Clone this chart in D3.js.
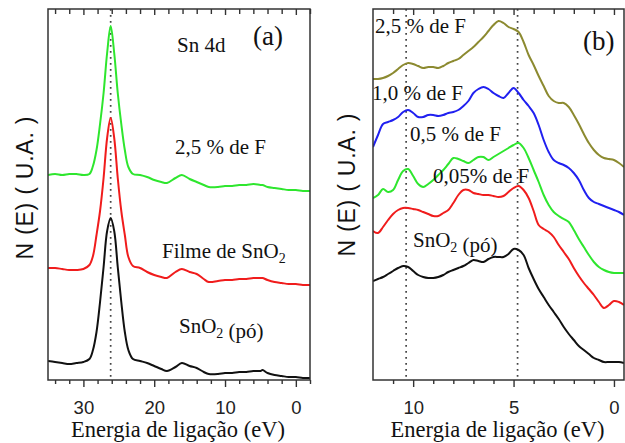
<!DOCTYPE html>
<html>
<head>
<meta charset="utf-8">
<script src="https://cdn.jsdelivr.net/npm/d3@7"></script>
<style>
  body { margin: 0; background: #fff; }
  svg { display: block; }
  .serif { font-family: "Liberation Serif", "Times New Roman", Times, serif; }
  .sans { font-family: "Liberation Sans", Arial, Helvetica, sans-serif; }
</style>
</head>
<body>
<svg id="chart" width="625" height="443"></svg>
<script>
// ---- Panel (a): Sn 4d core level, binding energy in eV ----
const energyA = [35,34,33,32,31,30,29.15,28.65,28.15,27.65,27.15,26.65,26.15,25.65,25.15,24.65,24.15,23.65,
  23,22,21,20,19,18.2,17,16.1,15,14,13,12.3,11,10,9,8,7,6,5,4.7,4,3,2,1,0,-1,-2];
const sno2PowderA = [19,18,17,16,17,18,21,30,48,78,113,149,162,149,113,78,48,30,
  21,19,17,14,11,9,13,17,14,12,8,6,6,7,7,8,8,9,9,10,7,5,4,3,3,2,2];
const sno2FilmA = [112,112,111,110,110,111,115,124,145,169,202,242,262,242,202,169,145,123,
  114,112,108,105,103,102,108,111,108,106,101,98,99,100,100,101,101,102,102,102,100,98,97,96,96,95,95];
const fluor25A = [205,206,205,206,206,205,206,214,230,256,287,327,354,327,287,256,230,213,
  206,205,203,200,198,197,202,205,201,198,195,193,193,194,194,195,195,196,195,195,193,192,191,190,190,189,189];
const sn4dPeak = [26.15];
const majorTicksA = [30,20,10,0];
const tickLabelsA = ["30","20","10","0"];
const minorTicksA = [34,32,28,26,24,22,18,16,14,12,8,6,4,2,-2];

// ---- Panel (b): valence band region ----
const energyB = [12,11.75,11.5,11.25,11,10.75,10.5,10.25,10,9.75,9.5,9.25,9,8.75,8.5,8.25,8,7.75,7.5,7.25,
  7,6.75,6.5,6.25,6,5.75,5.5,5.25,5,4.75,4.5,4.25,4,3.75,3.5,3.25,3,2.75,2.5,2.25,
  2,1.75,1.5,1.25,1,0.75,0.5,0.25,0,-0.25,-0.5];
const sno2PowderB = [99,101,103,106,109,112,114,113,109,105,103,102,102,103,105,108,110,112,114,117,
  120,119,118,121,123,123,123,126,131,130,125,112,101,91,83,75,68,61,53,46,
  40,34,30,26,22,20,18,18,18,18,17];
const fluor005B = [149,147,153,160,166,170,172,172,171,170,168,166,164,164,167,170,177,185,190,190,
  187,186,185,185,184,183,184,188,192,194,190,182,169,155,151,148,143,135,128,121,
  112,104,97,91,85,78,72,75,79,78,75];
const fluor05B = [182,185,191,188,190,200,209,211,204,196,193,196,200,205,210,216,222,221,219,217,
  220,223,223,220,223,226,229,232,235,237,232,222,210,198,185,175,168,164,161,158,
  150,141,133,125,118,113,110,108,107,107,107];
const fluor10B = [233,245,256,258,260,263,268,270,267,263,263,265,265,264,265,267,268,270,274,279,
  287,291,293,291,287,284,282,287,292,287,280,274,267,255,240,228,220,217,215,212,
  207,200,190,182,178,176,174,172,170,168,165];
const fluor25B = [301,301,302,304,307,311,315,317,316,314,312,313,313,312,314,317,319,321,325,329,
  333,338,343,349,355,359,357,353,351,348,338,325,315,304,294,284,279,277,277,273,
  265,256,246,237,230,225,222,221,220,217,213];
const valencePeaks = [10.35, 4.8];
const majorTicksB = [10,5,0];
const tickLabelsB = ["10","5","0"];
const minorTicksB = [11,9,8,7,6,4,3,2,1];

const svg = d3.select("#chart");

function drawPanel(p) {
  const x = d3.scaleLinear().domain(p.domain).range([p.left, p.right]);
  const y = d3.scaleLinear().domain([0, 371]).range([p.bottom, p.top]);
  const g = svg.append("g");

  const clipId = "clip-" + p.id;
  svg.append("clipPath").attr("id", clipId)
    .append("rect").attr("x", p.left).attr("y", p.top)
    .attr("width", p.right - p.left).attr("height", p.bottom - p.top);

  // reference energies
  g.selectAll("line.ref").data(p.refs).join("line")
    .attr("class", "ref")
    .attr("x1", d => x(d)).attr("x2", d => x(d))
    .attr("y1", p.top).attr("y2", p.bottom)
    .attr("stroke", "#444").attr("stroke-width", 1.7)
    .attr("stroke-dasharray", "1.7,4.3");

  // spectra
  const line = d3.line()
    .x(d => x(d[0])).y(d => y(d[1]))
    .curve(d3.curveCatmullRom.alpha(0.5));
  const curves = g.append("g").attr("clip-path", `url(#${clipId})`);
  p.series.forEach(s => {
    curves.append("path")
      .datum(p.energy.map((e, i) => [e, s.values[i]]))
      .attr("d", line)
      .attr("fill", "none")
      .attr("stroke", s.color)
      .attr("stroke-width", 2)
      .attr("stroke-linejoin", "round");
  });

  // frame
  g.append("rect")
    .attr("x", p.left).attr("y", p.top)
    .attr("width", p.right - p.left).attr("height", p.bottom - p.top)
    .attr("fill", "none").attr("stroke", "#333").attr("stroke-width", 1.5);

  // bottom axis: major with labels, minor without
  const bottomMajor = g.append("g").attr("transform", `translate(0,${p.bottom})`)
    .call(d3.axisBottom(x).tickValues(p.major).tickSize(7).tickPadding(14)
      .tickFormat((d, i) => p.labels[i]));
  const bottomMinor = g.append("g").attr("transform", `translate(0,${p.bottom})`)
    .call(d3.axisBottom(x).tickValues(p.minor).tickSize(4).tickFormat(""));
  // top axis: inward ticks
  const topMajor = g.append("g").attr("transform", `translate(0,${p.top})`)
    .call(d3.axisTop(x).tickValues(p.major).tickSize(-6).tickFormat(""));
  const topMinor = g.append("g").attr("transform", `translate(0,${p.top})`)
    .call(d3.axisTop(x).tickValues(p.minor).tickSize(-5).tickFormat(""));
  [bottomMajor, bottomMinor, topMajor, topMinor].forEach(a => {
    a.attr("font-family", null);
    a.select(".domain").remove();
    a.selectAll(".tick line").attr("stroke", "#333").attr("stroke-width", 1.4);
  });
  bottomMajor.selectAll(".tick text")
    .attr("class", "sans").attr("font-size", 18.5).attr("fill", "#222");

  // axis titles
  svg.append("text")
    .attr("class", "serif")
    .attr("x", (p.left + p.right) / 2 - 1).attr("y", 437)
    .attr("text-anchor", "middle")
    .attr("font-size", 22.5).attr("fill", "#111")
    .text("Energia de ligação (eV)");
  svg.append("text")
    .attr("class", "sans")
    .attr("transform", `translate(${p.yTitleX},${p.yTitleY}) rotate(-90)`)
    .attr("text-anchor", "middle")
    .attr("font-size", 23).attr("fill", "#111")
    .attr("textLength", 143).attr("lengthAdjust", "spacing")
    .text("N (E) ( U.A. )");

  // curve labels
  p.notes.forEach(n => {
    const t = svg.append("text")
      .attr("class", "serif")
      .attr("x", n.x).attr("y", n.y)
      .attr("font-size", n.size || 21).attr("fill", "#111");
    n.parts.forEach(part => {
      if (part.sub) {
        t.append("tspan").attr("font-size", 14).attr("dy", 5).text(part.text);
        t.append("tspan").attr("dy", -5).text("");
      } else {
        t.append("tspan").text(part.text);
      }
    });
  });
}

drawPanel({
  id: "a", left: 48, right: 310, top: 9, bottom: 380, domain: [35, -2],
  energy: energyA, refs: sn4dPeak,
  major: majorTicksA, labels: tickLabelsA, minor: minorTicksA,
  yTitleX: 33, yTitleY: 188,
  series: [
    { values: sno2PowderA, color: "#111111" },
    { values: sno2FilmA, color: "#f01c1c" },
    { values: fluor25A, color: "#2ee62e" }
  ],
  notes: [
    { x: 177, y: 52, parts: [{ text: "Sn 4d" }] },
    { x: 253, y: 45, size: 27, parts: [{ text: "(a)" }] },
    { x: 175, y: 154, parts: [{ text: "2,5 % de F" }] },
    { x: 162, y: 258, parts: [{ text: "Filme de SnO" }, { text: "2", sub: true }] },
    { x: 179, y: 333, parts: [{ text: "SnO" }, { text: "2", sub: true }, { text: " (pó)" }] }
  ]
});

drawPanel({
  id: "b", left: 373, right: 624, top: 9, bottom: 380, domain: [12, -0.5],
  energy: energyB, refs: valencePeaks,
  major: majorTicksB, labels: tickLabelsB, minor: minorTicksB,
  yTitleX: 355, yTitleY: 185,
  series: [
    { values: sno2PowderB, color: "#111111" },
    { values: fluor005B, color: "#f01c1c" },
    { values: fluor05B, color: "#2ee62e" },
    { values: fluor10B, color: "#2020f0" },
    { values: fluor25B, color: "#8c8a30" }
  ],
  notes: [
    { x: 375, y: 33, parts: [{ text: "2,5 % de F" }] },
    { x: 583, y: 50, size: 27, parts: [{ text: "(b)" }] },
    { x: 372, y: 100, parts: [{ text: "1,0 % de F" }] },
    { x: 410, y: 141, parts: [{ text: "0,5 % de F" }] },
    { x: 433, y: 183, parts: [{ text: "0,05% de F" }] },
    { x: 413, y: 247, parts: [{ text: "SnO" }, { text: "2", sub: true }, { text: " (pó)" }] }
  ]
});
</script>
</body>
</html>
